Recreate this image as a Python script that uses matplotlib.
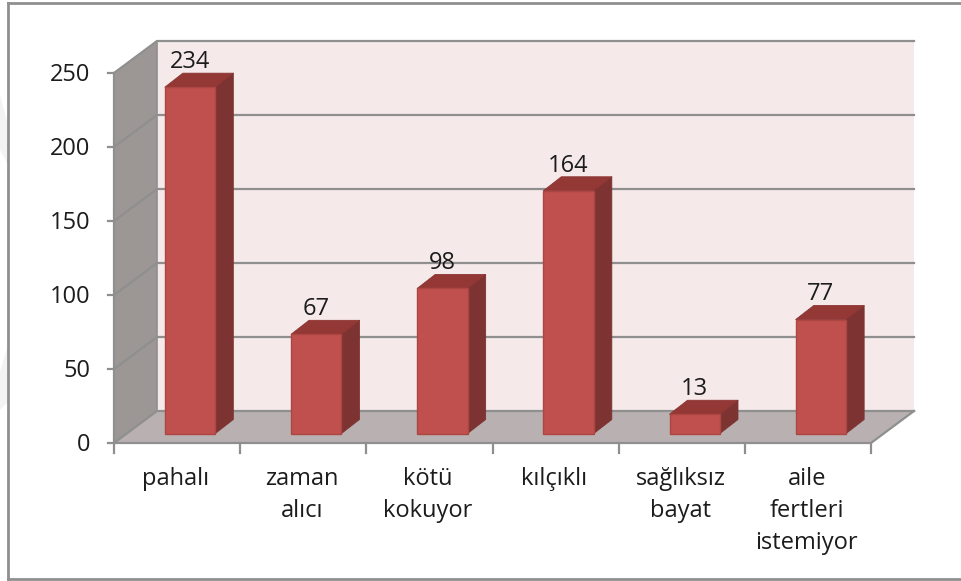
import matplotlib
matplotlib.use("Agg")
import matplotlib.pyplot as plt
from matplotlib.patches import Polygon, Rectangle
from matplotlib.lines import Line2D
from matplotlib.transforms import offset_copy

categories = ["pahalı", "zaman\nalıcı", "kötü\nkokuyor", "kılçıklı", "sağlıksız\nbayat", "aile\nfertleri\nistemiyor"]
values = [234, 67, 98, 164, 13, 77]
y_ticks = [0, 50, 100, 150, 200, 250]

W, H = 961, 581
FS = 17
TXT = "#1c1c1c"
plt.rcParams['font.family'] = ['Open Sans', 'DejaVu Sans']
fig = plt.figure(figsize=(W / 100, H / 100), dpi=100)
ax = fig.add_axes([114 / W, 1 - 443 / H, (871 - 114) / W, 370 / H])
ax.set_xlim(0, 6)
ax.set_ylim(0, 250)
ax.axis("off")

# faint watermark remnants at the left page edge
for pts in [[(0, 95), (8, 125), (8, 165), (0, 150)], [(0, 372), (8, 345), (8, 402), (0, 410)]]:
    fig.add_artist(Polygon([(x / W, 1 - y / H) for x, y in pts], closed=True,
                           transform=fig.transFigure, fc="#f3f3f3", ec="none"))

# depth of chart box in data units
DX = 43 / (757 / 6)
DY = 32 / (370 / 250)
# bar geometry in data units
BAR_W = 0.40
BAR_SHIFT_X = 13 / (757 / 6)
BAR_SHIFT_Y = 9.5 / (370 / 250)
BAR_DX = 18 / (757 / 6)
BAR_DY = 14 / (370 / 250)

GRID = "#8f8f8f"
def poly(pts, fc, ec="none", lw=0, z=1):
    ax.add_patch(Polygon(pts, closed=True, fc=fc, ec=ec, lw=lw, zorder=z, clip_on=False, joinstyle="round"))

# walls
poly([(DX, DY), (6 + DX, DY), (6 + DX, 250 + DY), (DX, 250 + DY)], "#f5e9e9", z=1)
poly([(0, 0), (DX, DY), (DX, 250 + DY), (0, 250)], "#9c9795", z=1)
poly([(0, 0), (6, 0), (6 + DX, DY), (DX, DY)], "#b9b1b1", z=1)

# gridlines
for t in y_ticks:
    ax.add_line(Line2D([0, DX, 6 + DX], [t, t + DY, t + DY], color=GRID, lw=1.6, zorder=2, clip_on=False))
ax.add_line(Line2D([DX, DX], [DY, 250 + DY], color=GRID, lw=1.2, zorder=2, clip_on=False))
ax.add_line(Line2D([0, 0], [0, 250], color=GRID, lw=1.6, zorder=3, clip_on=False))
ax.add_line(Line2D([0, 6, 6 + DX], [0, 0, DY], color=GRID, lw=1.6, zorder=3, clip_on=False))

# ticks
for t in y_ticks:
    ax.add_line(Line2D([-0.05, 0], [t, t], color=GRID, lw=1.6, zorder=3, clip_on=False))
    ax.text(-0.185, t - 1.4, str(t), ha="right", va="center", fontsize=FS, color=TXT)
for i in range(7):
    ax.add_line(Line2D([i, i], [0, -6.5], color=GRID, lw=1.6, zorder=3, clip_on=False))

# bars
for i, (name, v) in enumerate(zip(categories, values)):
    x0 = i + 0.5 - BAR_W / 2 + BAR_SHIFT_X
    x1 = x0 + BAR_W
    y0 = BAR_SHIFT_Y
    y1 = y0 + v
    poly([(x1, y0), (x1 + BAR_DX, y0 + BAR_DY), (x1 + BAR_DX, y1 + BAR_DY), (x1, y1)], "#7d3331", "#7d3331", 0.6, z=5)
    poly([(x0, y1), (x1, y1), (x1 + BAR_DX, y1 + BAR_DY), (x0 + BAR_DX, y1 + BAR_DY)], "#943836", "#8a3432", 0.6, z=5)
    ax.add_patch(Rectangle((x0, y0), BAR_W, v, fc="#c0504d", ec="#ab4643", lw=1.0, zorder=6, clip_on=False))
    ax.text((x0 + x1) / 2, y1 + BAR_DY - 0.5, str(v), ha="center", va="bottom",
            fontsize=FS, color=TXT, zorder=7)
    ax.text(i + 0.49, -16.5, name, ha="center", va="top", fontsize=FS, color=TXT,
            linespacing=1.42, clip_on=False)

# outer frame (open on the right)
for xs, ys in [((8, 8), (3, 579)), ((8, W), (3, 3)), ((8, W), (579, 579))]:
    fig.add_artist(Line2D([x / W for x in xs], [1 - y / H for y in ys], color="#8f8f8f", lw=2.0))

fig.savefig("out.png", dpi=100, facecolor="white")
